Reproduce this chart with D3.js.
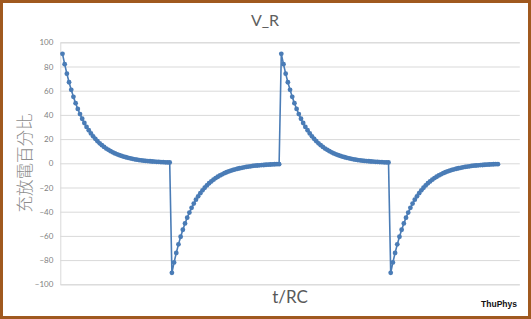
<!DOCTYPE html>
<html>
<head>
<meta charset="utf-8">
<script src="https://cdn.jsdelivr.net/npm/d3@7"></script>
<style>
  html, body { margin: 0; padding: 0; background: #fff; }
  #chart { width: 531px; height: 319px; }
</style>
</head>
<body>
<div id="chart"></div>
<script>
// resistor voltage, % of supply, one sample every 0.1 RC
const charge1 = [90.5, 81.9, 74.1, 67.0, 60.7, 54.9, 49.7, 44.9, 40.7, 36.8,
  33.3, 30.1, 27.3, 24.7, 22.3, 20.2, 18.3, 16.5, 15.0, 13.5,
  12.2, 11.1, 10.0, 9.1, 8.2, 7.4, 6.7, 6.1, 5.5, 5.0,
  4.5, 4.1, 3.7, 3.3, 3.0, 2.7, 2.5, 2.2, 2.0, 1.8,
  1.7, 1.5, 1.4, 1.2, 1.1, 1.0, 0.9, 0.8, 0.7, 0.7];
const discharge1 = [-90.5, -81.9, -74.1, -67.0, -60.7, -54.9, -49.7, -44.9, -40.7, -36.8,
  -33.3, -30.1, -27.3, -24.7, -22.3, -20.2, -18.3, -16.5, -15.0, -13.5,
  -12.2, -11.1, -10.0, -9.1, -8.2, -7.4, -6.7, -6.1, -5.5, -5.0,
  -4.5, -4.1, -3.7, -3.3, -3.0, -2.7, -2.5, -2.2, -2.0, -1.8,
  -1.7, -1.5, -1.4, -1.2, -1.1, -1.0, -0.9, -0.8, -0.7, -0.7];
const charge2 = [90.5, 81.9, 74.1, 67.0, 60.7, 54.9, 49.7, 44.9, 40.7, 36.8,
  33.3, 30.1, 27.3, 24.7, 22.3, 20.2, 18.3, 16.5, 15.0, 13.5,
  12.2, 11.1, 10.0, 9.1, 8.2, 7.4, 6.7, 6.1, 5.5, 5.0,
  4.5, 4.1, 3.7, 3.3, 3.0, 2.7, 2.5, 2.2, 2.0, 1.8,
  1.7, 1.5, 1.4, 1.2, 1.1, 1.0, 0.9, 0.8, 0.7, 0.7];
const discharge2 = [-90.5, -81.9, -74.1, -67.0, -60.7, -54.9, -49.7, -44.9, -40.7, -36.8,
  -33.3, -30.1, -27.3, -24.7, -22.3, -20.2, -18.3, -16.5, -15.0, -13.5,
  -12.2, -11.1, -10.0, -9.1, -8.2, -7.4, -6.7, -6.1, -5.5, -5.0,
  -4.5, -4.1, -3.7, -3.3, -3.0, -2.7, -2.5, -2.2, -2.0, -1.8,
  -1.7, -1.5, -1.4, -1.2, -1.1, -1.0, -0.9, -0.8, -0.7, -0.7];
const yTicks = [-100, -80, -60, -40, -20, 0, 20, 40, 60, 80, 100];
const xAxisMax = 210; // axis runs to sample 210 (t/RC = 21)

const title = "V_R";
const xTitle = "t/RC";
const yTitle = "充放電百分比";
const credit = "ThuPhys";

const series = charge1.concat(discharge1, charge2, discharge2)
  .map((v, i) => ({ n: i + 1, v: v }));

const W = 531, H = 319;
const plot = { left: 60.3, right: 519.8, top: 42.3, bottom: 284.3 };
const blue = "#4a7cb6";

const svg = d3.select("#chart").append("svg")
  .attr("width", W)
  .attr("height", H);

svg.append("rect")
  .attr("width", W).attr("height", H)
  .attr("fill", "#fff");

const x = d3.scaleLinear().domain([0, xAxisMax]).range([plot.left, plot.right]);
const y = d3.scaleLinear().domain([-100, 100]).range([plot.bottom, plot.top]);

// gridlines + tick labels
const yAxis = d3.axisLeft(y)
  .tickValues(yTicks)
  .tickSize(-(plot.right - plot.left))
  .tickPadding(7)
  .tickFormat(d3.format("d"));

const gy = svg.append("g")
  .attr("transform", `translate(${plot.left},0)`)
  .call(yAxis);
gy.select(".domain").attr("stroke", "#d9d9d9");
gy.selectAll(".tick line").attr("stroke", "#d9d9d9").attr("stroke-width", 1);
gy.selectAll(".tick text")
  .attr("fill", "#7f7f7f")
  .style("font-family", "Lato, 'Open Sans', sans-serif")
  .style("font-size", "8px");

// series
svg.append("path")
  .datum(series)
  .attr("fill", "none")
  .attr("stroke", blue)
  .attr("stroke-width", 1.6)
  .attr("stroke-linejoin", "round")
  .attr("d", d3.line().x(d => x(d.n)).y(d => y(d.v)));

svg.append("g").selectAll("circle")
  .data(series)
  .join("circle")
  .attr("cx", d => x(d.n))
  .attr("cy", d => y(d.v))
  .attr("r", 2.4)
  .attr("fill", blue);

// texts
svg.append("text")
  .attr("x", 265).attr("y", 26)
  .attr("text-anchor", "middle")
  .attr("fill", "#5f5f5f")
  .style("font-family", "Lato, 'Open Sans', sans-serif")
  .style("font-size", "16px")
  .text(title);

svg.append("text")
  .attr("x", 290).attr("y", 303)
  .attr("text-anchor", "middle")
  .attr("fill", "#595959")
  .style("font-family", "Lato, 'Open Sans', sans-serif")
  .style("font-size", "17px")
  .text(xTitle);

svg.append("text")
  .attr("transform", "translate(31,163) rotate(-90)")
  .attr("text-anchor", "middle")
  .attr("fill", "#8c8c8c")
  .style("font-family", "'Noto Sans CJK TC', sans-serif")
  .style("font-weight", "300")
  .style("font-size", "16.5px")
  .text(yTitle);

svg.append("text")
  .attr("x", 517).attr("y", 306.5)
  .attr("text-anchor", "end")
  .attr("fill", "#111")
  .style("font-family", "'Liberation Sans', Arial, sans-serif")
  .style("font-weight", "bold")
  .style("font-size", "8.5px")
  .text(credit);

// frame
svg.append("rect")
  .attr("x", 1.5).attr("y", 1.5)
  .attr("width", W - 3).attr("height", H - 3)
  .attr("fill", "none")
  .attr("stroke", "#a0591f")
  .attr("stroke-width", 3);
</script>
</body>
</html>
